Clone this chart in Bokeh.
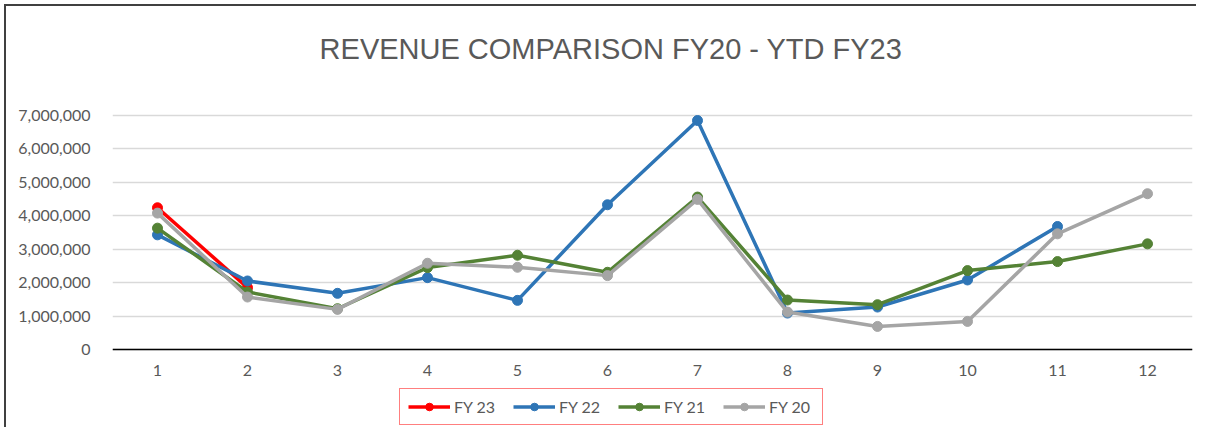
from bokeh.plotting import figure
from bokeh.models import (Range1d, FixedTicker, NumeralTickFormatter, Legend, LegendItem, Label)
from bokeh.embed import file_html
from bokeh.resources import INLINE

months = list(range(1, 13))
month_labels = [str(m) for m in months]
fy23 = [4240000, 1850000]
fy22 = [3430000, 2050000, 1680000, 2150000, 1470000, 4330000, 6850000, 1090000, 1270000, 2080000, 3680000]
fy21 = [3630000, 1720000, 1220000, 2450000, 2820000, 2310000, 4560000, 1480000, 1340000, 2360000, 2630000, 3160000]
fy20 = [4080000, 1570000, 1200000, 2580000, 2460000, 2210000, 4490000, 1120000, 690000, 840000, 3460000, 4660000]
y_ticks = [0, 1000000, 2000000, 3000000, 4000000, 5000000, 6000000, 7000000]
title_text = "REVENUE COMPARISON FY20 - YTD FY23"

series = [
    ("FY 23", fy23, "#FF0000"),
    ("FY 22", fy22, "#2E75B6"),
    ("FY 21", fy21, "#548235"),
    ("FY 20", fy20, "#A5A5A5"),
]

TXT = "#595959"
FONT = "Lato"

# layout in pixels: top gridline (7M) at y=115, zero line at y=349
W, H = 1196, 427
LEFT, RIGHT = 112, 1192
TOP, ZERO = 115, 349
y_max = y_ticks[-1]
per_px = y_max / (ZERO - TOP)
y_end = ZERO * per_px
y_start = -(H - ZERO) * per_px

p = figure(width=W, height=H, output_backend="svg", toolbar_location=None,
           x_range=Range1d(0.5, 12.5), y_range=Range1d(y_start, y_end),
           min_border_left=LEFT, min_border_right=W - RIGHT, min_border_top=0, min_border_bottom=0)
p.title.visible = False
p.styles = {
    "background": "linear-gradient(#404040, #404040) 4px 4px / calc(100% - 4px) 2px no-repeat, "
                  "linear-gradient(#404040, #404040) 4px 4px / 2px calc(100% - 4px) no-repeat, #ffffff",
}
p.outline_line_color = None
p.background_fill_color = None
p.border_fill_color = None

# title
p.add_layout(Label(x=0.5 + (610.5 - LEFT) / 90.0, y=(ZERO - 48) * per_px, text=title_text,
                   text_align="center", text_baseline="alphabetic",
                   text_font="Liberation Sans", text_font_size="29px", text_color=TXT))

# axes
p.xaxis.fixed_location = 0
p.xaxis.bounds = (0.5, 12.5)
p.xaxis.ticker = FixedTicker(ticks=months)
p.xaxis.major_label_overrides = {m: l for m, l in zip(months, month_labels)}
p.xaxis.axis_line_color = "#000000"
p.xaxis.axis_line_width = 1.5
p.xaxis.major_tick_line_color = None
p.xaxis.minor_tick_line_color = None
p.xaxis.major_label_standoff = 9
p.xaxis.major_label_text_font = FONT
p.xaxis.major_label_text_font_size = "16px"
p.xaxis.major_label_text_color = TXT

p.yaxis.ticker = FixedTicker(ticks=y_ticks)
p.yaxis.formatter = NumeralTickFormatter(format="0,0")
p.yaxis.axis_line_color = None
p.yaxis.major_tick_line_color = None
p.yaxis.minor_tick_line_color = None
p.yaxis.major_label_standoff = 16
p.yaxis.major_label_text_font = FONT
p.yaxis.major_label_text_font_size = "16px"
p.yaxis.major_label_text_color = TXT

p.xgrid.grid_line_color = None
p.ygrid.ticker = FixedTicker(ticks=y_ticks)
p.ygrid.grid_line_color = "#D9D9D9"
p.ygrid.grid_line_width = 1.5

items = []
for name, vals, color in series:
    xs = months[:len(vals)]
    lr = p.line(xs, vals, line_color=color, line_width=3.5, line_join="round")
    sr = p.scatter(xs, vals, size=10, fill_color=color, line_color=color)
    items.append(LegendItem(label=name, renderers=[lr, sr]))

legend = Legend(items=items, orientation="horizontal", location=(399 - LEFT, 2),
                border_line_color="#FF0000", border_line_width=1.2,
                background_fill_alpha=1, background_fill_color="white",
                padding=8, margin=0, spacing=14,
                glyph_width=42, glyph_height=19, label_standoff=4, label_width=45,
                label_text_font=FONT, label_text_font_size="16px", label_text_color=TXT,
                label_height=19)
p.add_layout(legend, "center")

open("out.html", "w").write(file_html(p, INLINE))
